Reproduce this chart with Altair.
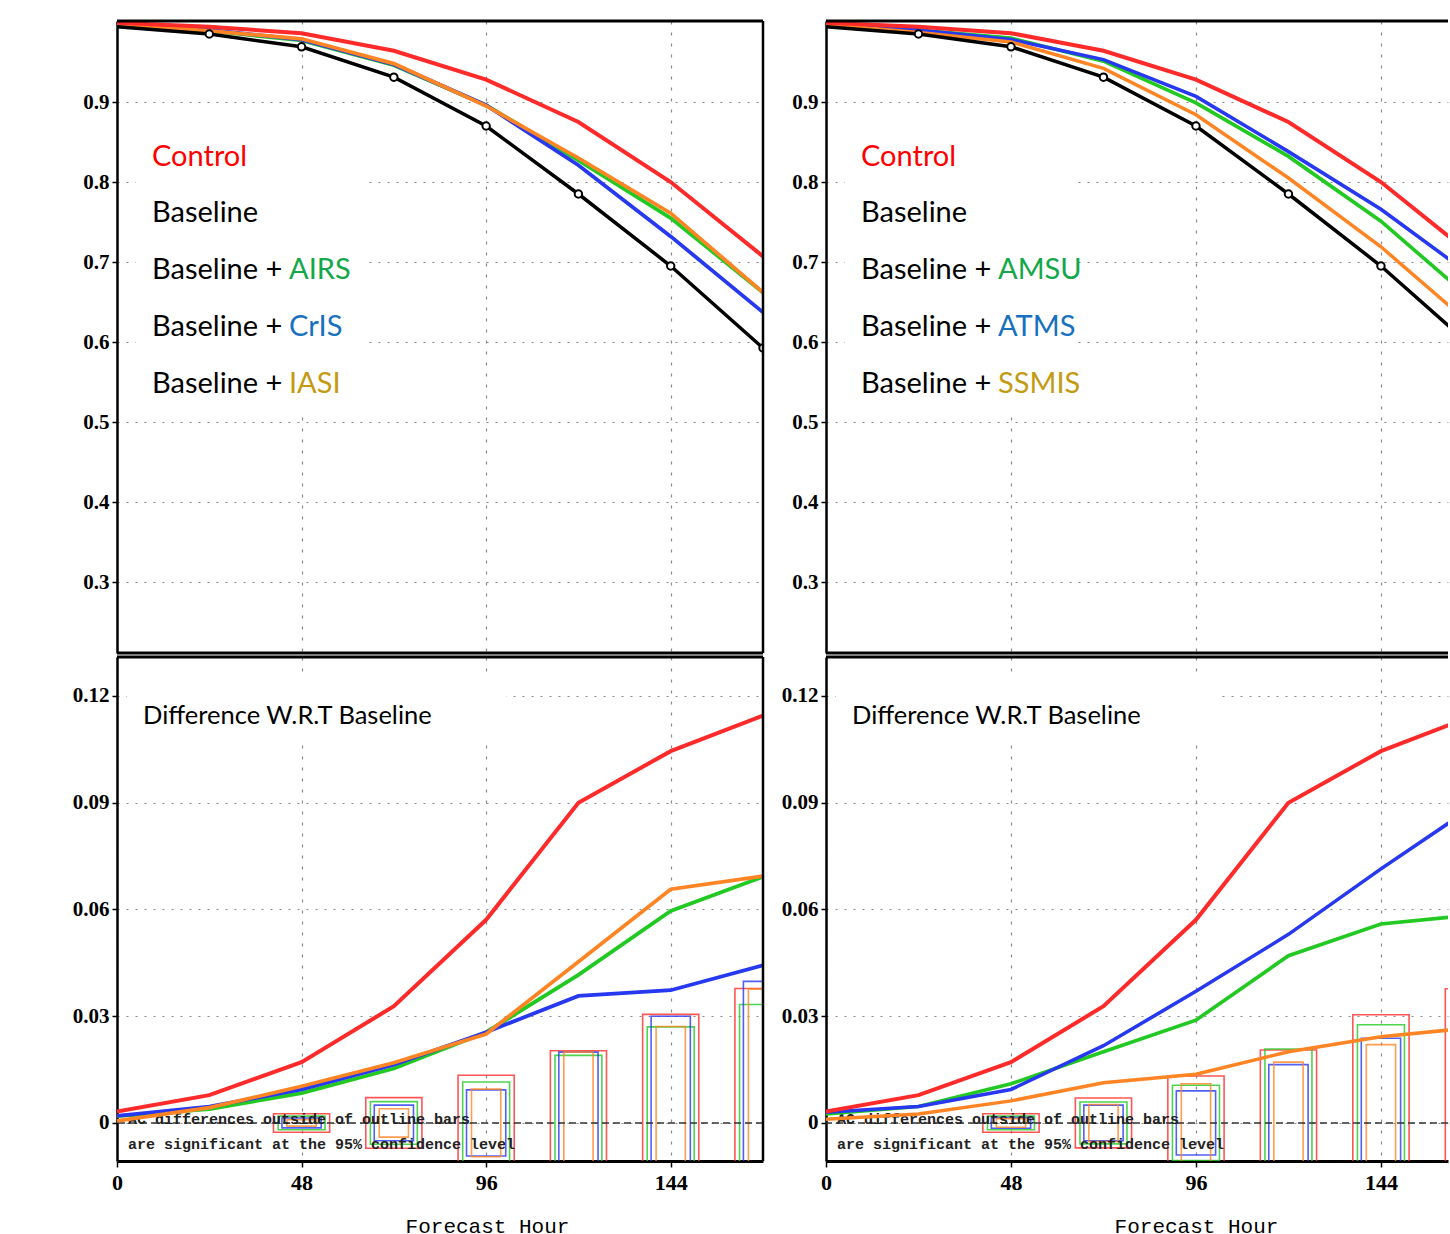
import altair as alt
import pandas as pd

# ---------------- data ----------------
hours = [0, 24, 48, 72, 96, 120, 144, 168]
box_hours = [48, 72, 96, 120, 144, 168]

# anomaly correlation (top panels)
ac_control = [0.999, 0.994, 0.986, 0.964, 0.928, 0.875, 0.800, 0.707]
ac_baseline = [0.994, 0.985, 0.969, 0.931, 0.870, 0.785, 0.695, 0.5925]
ac_airs = [0.998, 0.989, 0.977, 0.946, 0.896, 0.827, 0.755, 0.662]
ac_cris = [0.998, 0.990, 0.978, 0.947, 0.896, 0.821, 0.732, 0.637]
ac_iasi = [0.998, 0.989, 0.979, 0.948, 0.895, 0.830, 0.761, 0.662]
ac_amsu = [0.998, 0.990, 0.980, 0.951, 0.899, 0.832, 0.751, 0.651]
ac_atms = [0.998, 0.990, 0.978, 0.953, 0.907, 0.838, 0.766, 0.681]
ac_ssmis = [0.997, 0.987, 0.975, 0.942, 0.884, 0.805, 0.719, 0.619]

# difference w.r.t. baseline (bottom panels)
diff_control = [0.0032, 0.0078, 0.0171, 0.0328, 0.0571, 0.0900, 0.1045, 0.1145]
diff_airs = [0.0019, 0.0039, 0.0084, 0.0153, 0.0255, 0.0416, 0.0596, 0.0692]
diff_cris = [0.0020, 0.0046, 0.0094, 0.0164, 0.0255, 0.0357, 0.0373, 0.0443]
diff_iasi = [0.0006, 0.0043, 0.0103, 0.0169, 0.0250, 0.0453, 0.0657, 0.0694]
diff_amsu = [0.0025, 0.0046, 0.0110, 0.0200, 0.0289, 0.0470, 0.0559, 0.0585]
diff_atms = [0.0030, 0.0046, 0.0094, 0.0217, 0.0370, 0.0530, 0.0714, 0.0890]
diff_ssmis = [0.0010, 0.0025, 0.0062, 0.0113, 0.0137, 0.0200, 0.0242, 0.0268]

# 95% significance half-ranges (outline bars)
sig_control_l = [0.0026, 0.0071, 0.0134, 0.0203, 0.0305, 0.0378]
sig_airs = [0.0019, 0.0060, 0.0115, 0.0190, 0.0270, 0.0333]
sig_cris = [0.0014, 0.0050, 0.0093, 0.0199, 0.0300, 0.0398]
sig_iasi = [0.0009, 0.0040, 0.0095, 0.0199, 0.0271, 0.0376]
sig_control_r = [0.0026, 0.0070, 0.0132, 0.0205, 0.0304, 0.0377]
sig_amsu = [0.0019, 0.0059, 0.0106, 0.0208, 0.0276, 0.0340]
sig_atms = [0.0015, 0.0050, 0.0090, 0.0164, 0.0238, 0.0300]
sig_ssmis = [0.0012, 0.0052, 0.0110, 0.0171, 0.0220, 0.0280]

# ---------------- styles ----------------
NAMES = ["Control", "Baseline", "AIRS", "CrIS", "IASI", "AMSU", "ATMS", "SSMIS"]
LINE_COL = ["#ff2a2a", "#000000", "#22c922", "#2638f0", "#ff8424", "#22c922", "#2638f0", "#ff8424"]
LINE_W = [4, 3.5, 2.5, 2.5, 2.5, 2.5, 2.5, 2.5]
BOX_HALF = {"Control": 7.3, "AIRS": 6.1, "AMSU": 6.1, "CrIS": 5.1, "ATMS": 5.1, "IASI": 3.8, "SSMIS": 3.8}
TXT_COL = {"AIRS": "#12a84a", "CrIS": "#1870c0", "IASI": "#c39a12",
           "AMSU": "#12a84a", "ATMS": "#1870c0", "SSMIS": "#c39a12"}

TXT_FONT = "Lato"
AX_FONT = "Liberation Serif"
GRID_COL = "#8a8a8a"

TOP_DOM = [0.21125, 1.00125]
BOT_DOM = [-0.0107, 0.13096]
TOP_H = 632
BOT_H = 504

color_scale = alt.Scale(domain=NAMES, range=LINE_COL)
width_scale = alt.Scale(domain=NAMES, range=LINE_W)


def one(t):
    return pd.DataFrame({"label": [t]})


def text_layer(t, x, y, color, size=29):
    return alt.Chart(one(t)).mark_text(
        align="left", baseline="alphabetic", font=TXT_FONT, fontSize=size, color=color
    ).encode(text="label:N", x=alt.value(x), y=alt.value(y))


def x_enc(xmax, bottom):
    if bottom:
        ax = alt.Axis(values=[0, 48, 96, 144], grid=True, gridDash=[3, 8], gridColor=GRID_COL,
                      gridWidth=1.2, domain=True, domainColor="black", domainWidth=3,
                      ticks=True, tickSize=6, tickColor="black", tickWidth=1.5,
                      labelFont=AX_FONT, labelFontSize=22, labelFontWeight="bold",
                      labelColor="black", labelPadding=5, labelFlush=False,
                      title="Forecast Hour", titleFont="Liberation Mono", titleFontSize=21,
                      titleFontWeight="normal", titleColor="black", titleX=370, titleY=71,
                      titleBaseline="alphabetic", titleAlign="center")
    else:
        ax = alt.Axis(values=[48, 96, 144], grid=True, gridDash=[3, 8], gridColor=GRID_COL,
                      gridWidth=1.2, domain=False, ticks=False, labels=False, title=None)
    return alt.X("hour:Q", scale=alt.Scale(domain=[0, xmax], nice=False, zero=False), axis=ax)


def y_enc(bottom):
    if bottom:
        vals, fmt, dom = [0, 0.03, 0.06, 0.09, 0.12], ".2~f", BOT_DOM
    else:
        vals, fmt, dom = [0.3, 0.4, 0.5, 0.6, 0.7, 0.8, 0.9], ".1f", TOP_DOM
    ax = alt.Axis(values=vals, format=fmt, grid=True, gridDash=[2, 7], gridColor=GRID_COL,
                  gridWidth=1.2, domain=True, domainColor="black", domainWidth=2.5,
                  ticks=True, tickSize=5, tickColor="black", tickWidth=1.5,
                  labelFont=AX_FONT, labelFontSize=21, labelFontWeight="bold",
                  labelColor="black", labelPadding=3, title=None)
    return alt.Y("value:Q", scale=alt.Scale(domain=dom, nice=False, zero=False), axis=ax)


def line_layers(df, others, xe, ye):
    base = alt.Chart(df).encode(x=xe, y=ye)
    col = alt.Color("series:N", scale=color_scale, legend=None)
    sw = alt.StrokeWidth("series:N", scale=width_scale, legend=None)
    return [
        base.transform_filter(alt.FieldOneOfPredicate(field="series", oneOf=others))
        .mark_line(clip=True).encode(color=col, strokeWidth=sw, detail="series:N"),
        base.transform_filter(alt.datum.series == "Control")
        .mark_line(clip=True).encode(color=col, strokeWidth=sw),
    ]


def top_panel(names, series, width, xmax, right_border):
    rows = []
    for n in ["Control", "Baseline"] + names:
        for h, v in zip(hours, series[n]):
            rows.append({"series": n, "hour": h, "value": v})
    df = pd.DataFrame(rows)
    xe, ye = x_enc(xmax, False), y_enc(False)
    blank = alt.Chart(one("")).mark_rect(color="white").encode(
        x=alt.datum(4.9), x2=alt.datum(64.6), y=alt.datum(0.894), y2=alt.datum(0.514))
    layers = [alt.Chart(df).mark_line(opacity=0, clip=True).encode(x=xe, y=ye), blank]
    layers += line_layers(df, names, xe, ye)
    bl = alt.Chart(df).transform_filter(alt.datum.series == "Baseline")
    layers.append(bl.mark_line(clip=True, color="black", strokeWidth=3.5).encode(x=xe, y=ye))
    layers.append(bl.transform_filter(alt.datum.hour > 0).mark_point(
        shape="circle", filled=True, fill="white", stroke="black", strokeWidth=2, size=55,
        opacity=1, clip=True).encode(x=xe, y=ye))
    # legend text
    layers.append(text_layer("Control", 35, 145, "#ff0000"))
    layers.append(text_layer("Baseline", 35, 201, "black"))
    for i, n in enumerate(names):
        y = 258 + 57 * i
        layers.append(text_layer("Baseline +", 35, y, "black"))
        layers.append(text_layer(n, 172, y, TXT_COL[n]))
    # frame
    layers.append(alt.Chart(one("")).mark_rule(color="black", strokeWidth=3).encode(y=alt.datum(TOP_DOM[1])))
    layers.append(alt.Chart(one("")).mark_rule(color="black", strokeWidth=3).encode(y=alt.datum(TOP_DOM[0])))
    if right_border:
        layers.append(alt.Chart(one("")).mark_rule(color="black", strokeWidth=2.5).encode(x=alt.datum(xmax)))
    return alt.layer(*layers).properties(width=width, height=TOP_H)


def bottom_panel(names, series, sig, width, xmax, right_border):
    rows = []
    for n in ["Control"] + names:
        for h, v in zip(hours, series[n]):
            rows.append({"series": n, "hour": h, "value": v})
    df = pd.DataFrame(rows)
    brow = []
    for n in ["Control"] + names:
        for h, s in zip(box_hours, sig[n]):
            brow.append({"series": n, "x0": h - BOX_HALF[n], "x1": h + BOX_HALF[n],
                         "lo": -s, "hi": s})
    bdf = pd.DataFrame(brow)
    xe, ye = x_enc(xmax, True), y_enc(True)
    layers = [alt.Chart(df).mark_line(opacity=0, clip=True).encode(x=xe, y=ye)]
    layers.append(alt.Chart(bdf).mark_rect(filled=False, strokeWidth=1.6, clip=True, opacity=0.8).encode(
        x=alt.X("x0:Q", scale=alt.Scale(domain=[0, xmax], nice=False, zero=False)),
        x2="x1:Q",
        y=alt.Y("lo:Q", scale=alt.Scale(domain=BOT_DOM, nice=False, zero=False)),
        y2="hi:Q",
        color=alt.Color("series:N", scale=color_scale, legend=None)))
    layers.append(alt.Chart(one("")).mark_rule(color="#333333", strokeWidth=1.5, strokeDash=[7, 4]).encode(
        y=alt.datum(0)))
    blank = alt.Chart(one("")).mark_rect(color="white").encode(
        x=alt.datum(2.6), x2=alt.datum(101.3), y=alt.datum(0.1252), y2=alt.datum(0.1082))
    layers.append(blank)
    mono = "Liberation Mono, DejaVu Sans Mono, monospace"
    for t, y in [("AC differences outside of outline bars", 467),
                 ("are significant at the 95% confidence level", 492)]:
        layers.append(alt.Chart(one(t)).mark_text(
            align="left", baseline="alphabetic", font=mono, fontSize=15, fontWeight="bold",
            color="#222222").encode(text="label:N", x=alt.value(11), y=alt.value(y)))
    layers += line_layers(df, names, xe, ye)
    layers.append(text_layer("Difference W.R.T Baseline", 26, 67, "black", 25.5))
    layers.append(alt.Chart(one("")).mark_rule(color="black", strokeWidth=3).encode(y=alt.datum(BOT_DOM[1])))
    if right_border:
        layers.append(alt.Chart(one("")).mark_rule(color="black", strokeWidth=2.5).encode(x=alt.datum(xmax)))
    return alt.layer(*layers).properties(width=width, height=BOT_H)


top_series = {"Control": ac_control, "Baseline": ac_baseline, "AIRS": ac_airs, "CrIS": ac_cris,
              "IASI": ac_iasi, "AMSU": ac_amsu, "ATMS": ac_atms, "SSMIS": ac_ssmis}
bot_series = {"Control": diff_control, "AIRS": diff_airs, "CrIS": diff_cris, "IASI": diff_iasi,
              "AMSU": diff_amsu, "ATMS": diff_atms, "SSMIS": diff_ssmis}
sig_left = {"Control": sig_control_l, "AIRS": sig_airs, "CrIS": sig_cris, "IASI": sig_iasi}
sig_right = {"Control": sig_control_r, "AMSU": sig_amsu, "ATMS": sig_atms, "SSMIS": sig_ssmis}

left_names = ["AIRS", "CrIS", "IASI"]
right_names = ["AMSU", "ATMS", "SSMIS"]

LEFT_W, RIGHT_W = 646, 622
RIGHT_MAX = 161.4

left_col = alt.vconcat(
    top_panel(left_names, top_series, LEFT_W, 168, True),
    bottom_panel(left_names, bot_series, sig_left, LEFT_W, 168, True),
    spacing=0)
right_col = alt.vconcat(
    top_panel(right_names, top_series, RIGHT_W, RIGHT_MAX, False),
    bottom_panel(right_names, bot_series, sig_right, RIGHT_W, RIGHT_MAX, False),
    spacing=0)

chart = alt.hconcat(left_col, right_col, spacing=16).properties(
    padding={"left": 72, "top": 19, "right": 0, "bottom": 0},
    background="white",
).configure_view(stroke=None).resolve_scale(color="shared")

chart.save("out.html", embed_options={"renderer": "svg", "actions": False})
